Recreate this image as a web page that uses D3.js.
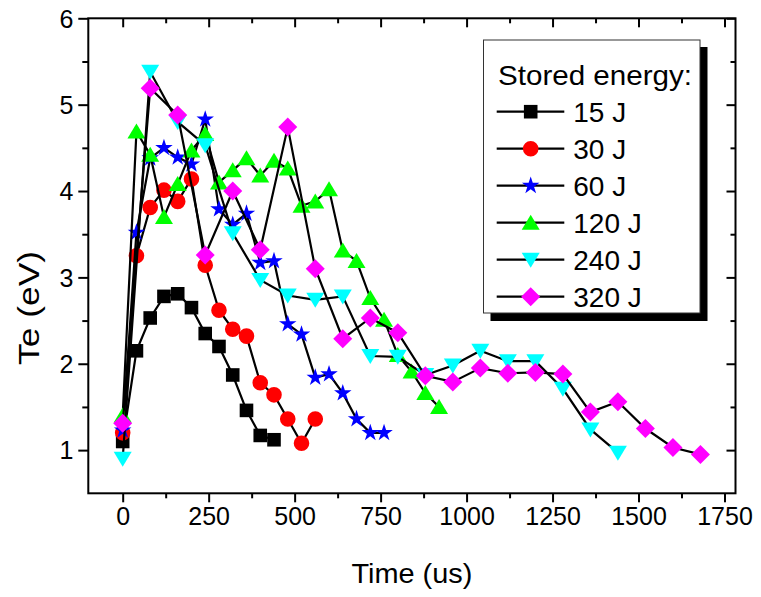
<!DOCTYPE html>
<html><head><meta charset="utf-8">
<script src="https://cdn.jsdelivr.net/npm/d3@7"></script>
<style>body{margin:0;background:#fff}svg{display:block}text{font-family:"Liberation Sans",Arial,sans-serif;fill:#000}</style>
</head><body><svg id="c" width="761" height="597"></svg>
<script>
const legendTitle = "Stored energy:";
const seriesNames = ["15 J","30 J","60 J","120 J","240 J","320 J"];
const seriesColors = ["#000000","#ff0000","#0000ff","#00ff00","#00ffff","#ff00ff"];
const seriesSymbols = ["square","circle","star","triangleUp","triangleDown","diamond"];

const t15 = [0,40,80,120,160,200,240,280,320,360,400,440];
const v15 = [1.10,2.15,2.53,2.78,2.81,2.65,2.35,2.20,1.87,1.46,1.17,1.12];
const t30 = [0,40,80,120,160,200,240,280,320,360,400,440,480,520,560];
const v30 = [1.20,3.25,3.81,4.01,3.88,4.14,3.14,2.62,2.40,2.32,1.78,1.64,1.36,1.08,1.36];
const t60 = [0,40,80,120,160,200,240,280,320,360,400,440,480,520,560,600,640,680,720,760];
const v60 = [1.23,3.52,4.38,4.50,4.39,4.31,4.83,3.79,3.61,3.74,3.17,3.19,2.46,2.34,1.84,1.88,1.66,1.36,1.20,1.20];
const t120 = [0,40,80,120,160,200,240,280,320,360,400,440,480,520,560,600,640,680,720,760,800,840,880,920];
const v120 = [1.40,4.69,4.42,3.70,4.08,4.47,4.66,4.10,4.24,4.38,4.18,4.35,4.26,3.83,3.88,4.02,3.31,3.19,2.76,2.51,2.10,1.91,1.66,1.50];
const t240 = [0,80,160,240,320,400,480,560,640,720,800,880,960,1040,1120,1200,1280,1360,1440];
const v240 = [0.90,5.38,4.80,4.53,3.51,2.97,2.79,2.74,2.78,2.09,2.08,1.87,1.98,2.15,2.03,2.03,1.71,1.24,0.97];
const t320 = [0,80,160,240,320,400,480,560,640,720,800,880,960,1040,1120,1200,1280,1360,1440,1520,1600,1680];
const v320 = [1.31,5.19,4.88,3.26,4.00,3.32,4.74,3.10,2.29,2.53,2.36,1.86,1.79,1.95,1.89,1.90,1.88,1.44,1.56,1.25,1.03,0.95];

const xTicks = [0,250,500,750,1000,1250,1500,1750];
const xMinor = [125,375,625,875,1125,1375,1625];
const yTicks = [1,2,3,4,5,6];
const yMinor = [1.5,2.5,3.5,4.5,5.5];
const xTitle = "Time (us)";
const yTitle = "Te (eV)";

const seriesT = [t15,t30,t60,t120,t240,t320];
const seriesV = [v15,v30,v60,v120,v240,v320];

const L=88.3, R=735.5, T=18.3, B=493.3;
const x = d3.scaleLinear().domain([-100,1782]).range([L,R]);
const y = d3.scaleLinear().domain([0.5,6]).range([B,T]);
const svg = d3.select("#c");

function symPath(kind){
  switch(kind){
    case "square": return "M-6.8,-6.8H6.8V6.8H-6.8Z";
    case "circle": return d3.symbol(d3.symbolCircle, Math.PI*7.8*7.8)();
    case "star": return d3.symbol(d3.symbolStar, 95)();
    case "triangleUp": return "M0,-8L9,7L-9,7Z";
    case "triangleDown": return "M0,8L9,-7L-9,-7Z";
    case "diamond": return "M0,-9.5L9.5,0L0,9.5L-9.5,0Z";
  }
}

// axes frame
svg.append("rect").attr("x",L).attr("y",T).attr("width",R-L).attr("height",B-T)
  .attr("fill","none").attr("stroke","#000").attr("stroke-width",2);

const gx = svg.append("g").attr("transform",`translate(0,${B})`)
  .call(d3.axisBottom(x).tickValues(xTicks).tickSize(9).tickSizeOuter(0).tickFormat(d3.format("d")));
const gxm = svg.append("g").attr("transform",`translate(0,${B})`)
  .call(d3.axisBottom(x).tickValues(xMinor).tickSize(5).tickSizeOuter(0).tickFormat(""));
const gxt = svg.append("g").attr("transform",`translate(0,${T})`)
  .call(d3.axisBottom(x).tickValues(xTicks).tickSize(9).tickSizeOuter(0).tickFormat(""));
const gxtm = svg.append("g").attr("transform",`translate(0,${T})`)
  .call(d3.axisBottom(x).tickValues(xMinor).tickSize(5).tickSizeOuter(0).tickFormat(""));
const gy = svg.append("g").attr("transform",`translate(${L},0)`)
  .call(d3.axisLeft(y).tickValues(yTicks).tickSize(10).tickSizeOuter(0).tickFormat(d3.format("d")));
const gym = svg.append("g").attr("transform",`translate(${L},0)`)
  .call(d3.axisLeft(y).tickValues(yMinor).tickSize(6).tickSizeOuter(0).tickFormat(""));
const gyr = svg.append("g").attr("transform",`translate(${R},0)`)
  .call(d3.axisLeft(y).tickValues(yTicks).tickSize(9).tickSizeOuter(0).tickFormat(""));
const gyrm = svg.append("g").attr("transform",`translate(${R},0)`)
  .call(d3.axisLeft(y).tickValues(yMinor).tickSize(5).tickSizeOuter(0).tickFormat(""));
[gx,gxm,gxt,gxtm,gy,gym,gyr,gyrm].forEach(g=>{
  g.select(".domain").remove();
  g.selectAll(".tick line").attr("stroke","#000").attr("stroke-width",2);
});
gx.selectAll(".tick text").attr("font-size",25).attr("font-family","Liberation Sans, Arial, sans-serif").attr("y",14).attr("dy","0.71em");
gy.selectAll(".tick text").attr("font-size",25).attr("font-family","Liberation Sans, Arial, sans-serif").attr("x",-15).attr("dy","0.35em");

svg.append("text").attr("x",(L+R)/2).attr("y",583).attr("text-anchor","middle")
  .attr("font-size",28).attr("textLength",121).attr("lengthAdjust","spacingAndGlyphs").text(xTitle);
svg.append("text").attr("transform","translate(39,308) rotate(-90)").attr("text-anchor","middle")
  .attr("font-size",30).attr("textLength",114).attr("lengthAdjust","spacingAndGlyphs").text(yTitle);

// series
const line = d3.line().x(d=>x(d[0])).y(d=>y(d[1]));
const plot = svg.append("g");
seriesNames.forEach((name,i)=>{
  const pts = seriesT[i].map((t,j)=>[t,seriesV[i][j]]);
  const g = plot.append("g");
  g.append("path").attr("d",line(pts)).attr("fill","none").attr("stroke","#000").attr("stroke-width",2.2);
  g.selectAll("path.m").data(pts).join("path").attr("class","m")
    .attr("d",symPath(seriesSymbols[i]))
    .attr("transform",d=>`translate(${x(d[0])},${y(d[1])})`)
    .attr("fill",seriesColors[i]);
});

// legend
const lg = svg.append("g");
lg.append("rect").attr("x",490.5).attr("y",47).attr("width",217).attr("height",274).attr("fill","#000");
lg.append("rect").attr("x",483.5).attr("y",40).attr("width",216.5).attr("height",273)
  .attr("fill","#fff").attr("stroke","#333").attr("stroke-width",1);
lg.append("text").attr("x",498).attr("y",85).attr("font-size",28)
  .attr("textLength",194).attr("lengthAdjust","spacingAndGlyphs").text(legendTitle);
seriesNames.forEach((name,i)=>{
  const cy = 111.7 + i*37;
  lg.append("line").attr("x1",496.7).attr("x2",564.3).attr("y1",cy).attr("y2",cy)
    .attr("stroke","#000").attr("stroke-width",2.2);
  lg.append("path").attr("d",symPath(seriesSymbols[i])).attr("transform",`translate(530.7,${cy})`)
    .attr("fill",seriesColors[i]);
  lg.append("text").attr("x",573.3).attr("y",cy+10.5).attr("font-size",28).text(name);
});
</script></body></html>
